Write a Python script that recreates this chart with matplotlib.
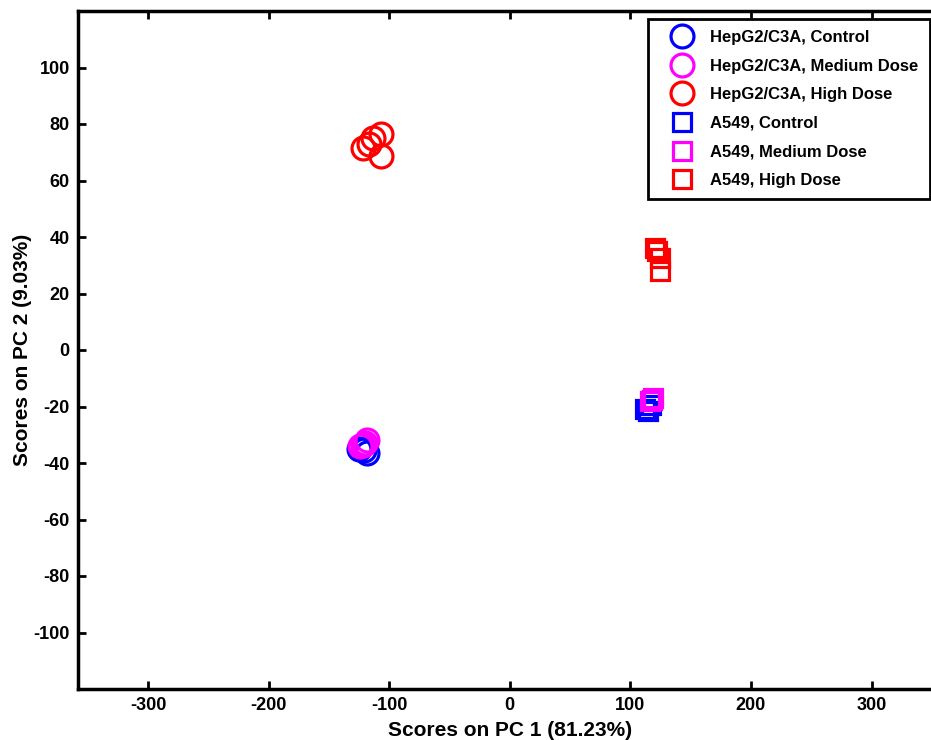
import matplotlib
matplotlib.use("Agg")
import matplotlib.pyplot as plt

plt.rcParams['font.family'] = ['Liberation Sans', 'DejaVu Sans']
plt.rcParams['font.weight'] = 'bold'
plt.rcParams['axes.unicode_minus'] = False

# Data
hep_ctrl_x = [-125, -121, -118]
hep_ctrl_y = [-35, -35.5, -36.5]
hep_med_x = [-124, -122, -120, -118]
hep_med_y = [-34, -33.5, -33, -32]
hep_high_x = [-122, -117, -113, -107, -107]
hep_high_y = [71.4, 72.8, 74.9, 76.3, 68.6]
a_ctrl_x = [112, 115, 117]
a_ctrl_y = [-20.8, -21.6, -19.5]
a_med_x = [116.5, 118, 119]
a_med_y = [-18, -17.7, -17]
a_high_x = [120.6, 122, 124.8, 124.8]
a_high_y = [36.0, 35.0, 32.5, 27.9]

xticks = [-300, -200, -100, 0, 100, 200, 300]
yticks = [-100, -80, -60, -40, -20, 0, 20, 40, 60, 80, 100]

blue = '#0000ff'
mag = '#ff00ff'
red = '#ff0000'

fig = plt.figure(figsize=(9.31, 7.40), dpi=100)
ax = fig.add_axes([78/931, 51/740, 863.5/931, 678/740])

cs, ss, ew = 16.5, 12.5, 2.3
ax.plot(hep_ctrl_x, hep_ctrl_y, 'o', ms=cs, mfc='none', mec=blue, mew=ew, ls='none', label='HepG2/C3A, Control')
ax.plot(hep_med_x, hep_med_y, 'o', ms=cs, mfc='none', mec=mag, mew=ew, ls='none', label='HepG2/C3A, Medium Dose')
ax.plot(hep_high_x, hep_high_y, 'o', ms=cs, mfc='none', mec=red, mew=ew, ls='none', label='HepG2/C3A, High Dose')
ax.plot(a_ctrl_x, a_ctrl_y, 's', ms=ss, mfc='none', mec=blue, mew=ew, ls='none', label='A549, Control')
ax.plot(a_med_x, a_med_y, 's', ms=ss, mfc='none', mec=mag, mew=ew, ls='none', label='A549, Medium Dose')
ax.plot(a_high_x, a_high_y, 's', ms=ss, mfc='none', mec=red, mew=ew, ls='none', label='A549, High Dose')

ax.set_xlim(-358, 358)
ax.set_ylim(-120, 120)
ax.set_xticks(xticks)
ax.set_yticks(yticks)
ax.tick_params(direction='in', length=6, width=2, labelsize=13, top=True, right=True, pad=6)
for lab in ax.get_xticklabels() + ax.get_yticklabels():
    lab.set_fontweight('bold')
for s in ax.spines.values():
    s.set_linewidth(2.5)

ax.set_xlabel('Scores on PC 1 (81.23%)', fontsize=15, fontweight='bold', labelpad=5)
ax.set_ylabel('Scores on PC 2 (9.03%)', fontsize=15, fontweight='bold', labelpad=1)

leg = ax.legend(loc='upper left', bbox_to_anchor=(648/931, 1-19/740), bbox_transform=fig.transFigure,
                fancybox=False, edgecolor='black', framealpha=1, prop={'weight': 'bold', 'size': 12},
                handlelength=2.8, handletextpad=0.3, borderpad=0.65, labelspacing=0.82, borderaxespad=0)
leg.get_frame().set_linewidth(2)

fig.savefig('out.png', dpi=100)
